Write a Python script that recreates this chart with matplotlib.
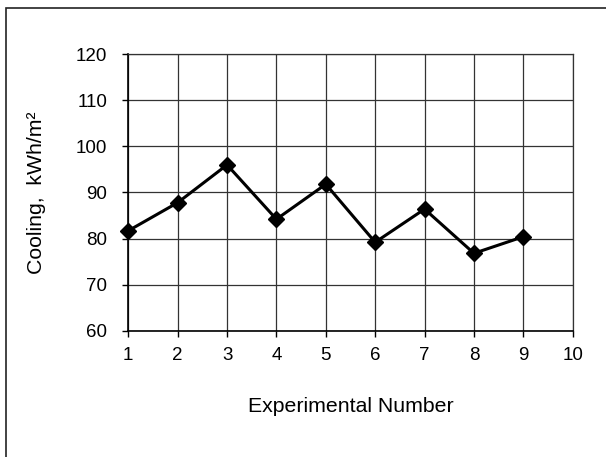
import matplotlib
matplotlib.use("Agg")
import matplotlib.pyplot as plt
from matplotlib.patches import Rectangle

plt.rcParams['font.family'] = ['Liberation Sans', 'DejaVu Sans']

experiment = [1, 2, 3, 4, 5, 6, 7, 8, 9]
cooling = [81.7, 87.8, 96.0, 84.2, 91.8, 79.2, 86.4, 76.8, 80.4]

fig = plt.figure(figsize=(6.06, 4.57), dpi=100)

# outer chart border (right/bottom edges fall outside the picture)
fig.patches.append(Rectangle((5.5 / 606, -0.05), 1.2, (457 - 8) / 457 + 0.05,
                             transform=fig.transFigure, fill=False,
                             edgecolor='#222222', linewidth=1.2))

ax = fig.add_axes([128.3 / 606, (457 - 330.7) / 457, 444.4 / 606, 276.4 / 457])
ax.plot(experiment, cooling, color='black', linewidth=2.2,
        marker='D', markersize=8, markerfacecolor='black', markeredgecolor='black',
        zorder=3, clip_on=False)

ax.set_xlim(1, 10)
ax.set_ylim(60, 120)
ax.set_xticks(range(1, 11))
ax.set_yticks(range(60, 121, 10))
ax.grid(True, color='#333333', linewidth=0.9)
ax.set_axisbelow(True)
for side in ['top', 'right']:
    ax.spines[side].set_color('#333333')
    ax.spines[side].set_linewidth(0.9)
for side in ['left', 'bottom']:
    ax.spines[side].set_color('black')
    ax.spines[side].set_linewidth(1.2)
ax.tick_params(direction='out', length=4, width=1, labelsize=13.5)
ax.tick_params(axis='x', pad=7.5)
ax.tick_params(axis='y', pad=11)

ax.set_xlabel('Experimental Number', fontsize=15.3, labelpad=24)
ax.set_ylabel('Cooling,  kWh/m²', fontsize=15.3, labelpad=22)

fig.savefig('out.png', dpi=100)
